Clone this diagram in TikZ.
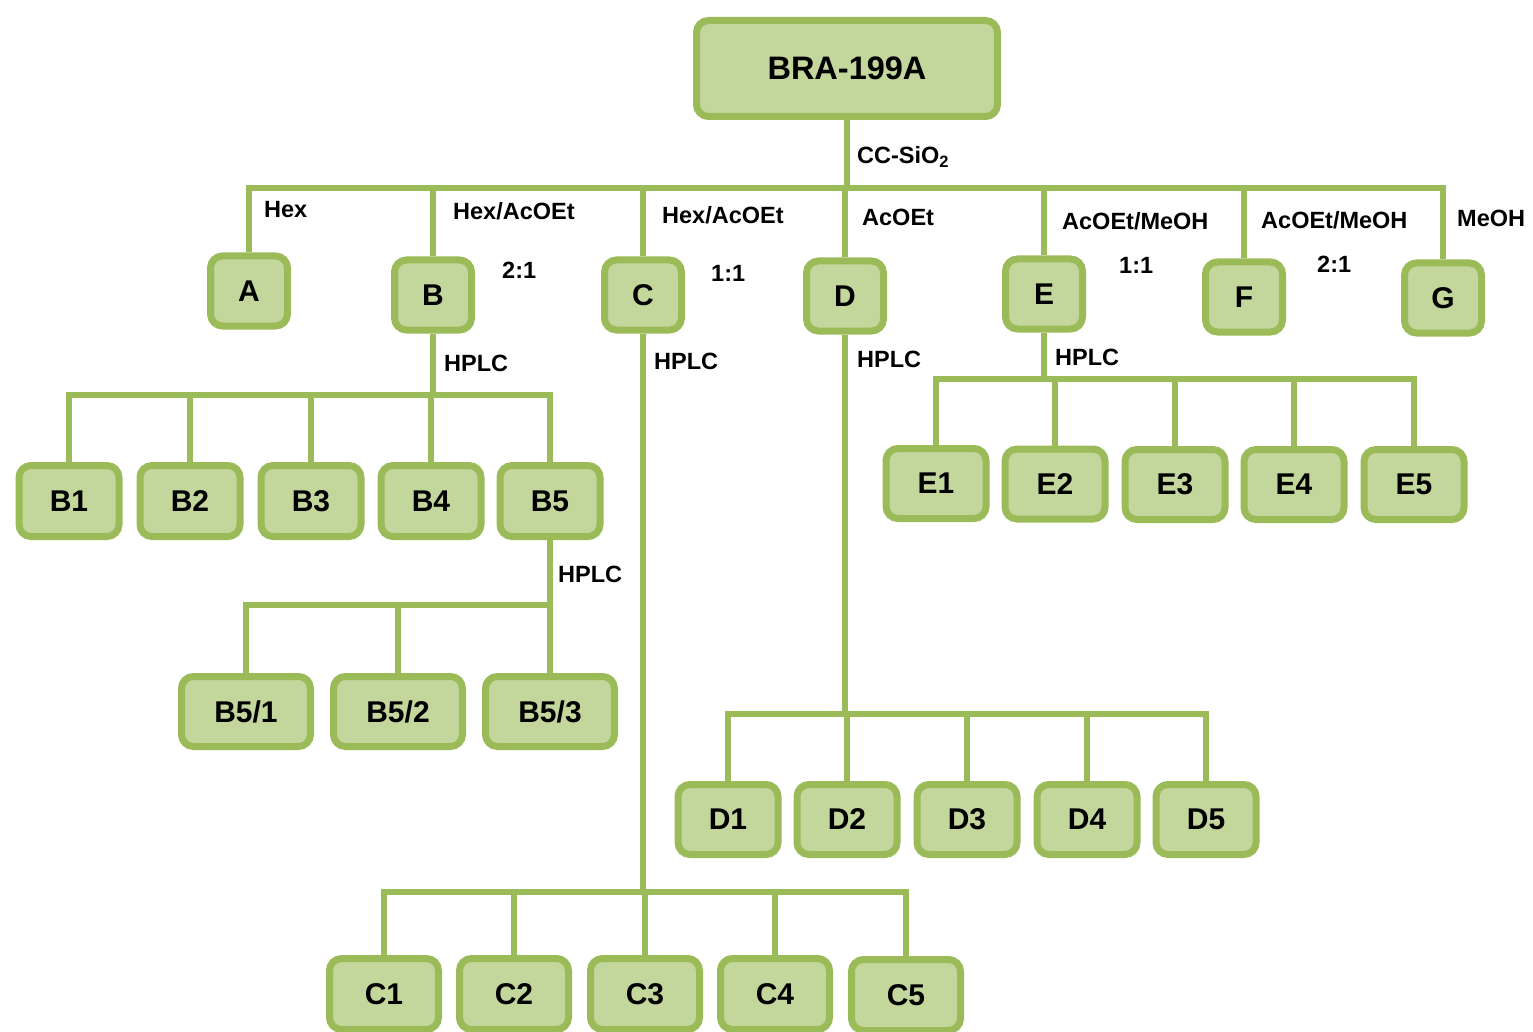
\documentclass[tikz,border=0pt]{standalone}
\usepackage{fontspec}
\setmainfont{Liberation Sans}
\definecolor{bordergreen}{HTML}{9BBB59}
\definecolor{fillgreen}{HTML}{C3D69B}
\newcommand{\boxfont}{\fontsize{30}{30}\selectfont\bfseries}
\newcommand{\rootfont}{\fontsize{32.5}{32.5}\selectfont\bfseries}
\newcommand{\lblfont}{\fontsize{23.5}{23.5}\selectfont\bfseries}
\pgfdeclarelayer{background}
\pgfsetlayers{background,main}
\tikzset{
  box/.style={draw=bordergreen, fill=fillgreen, line width=7pt, rounded corners=12pt,
    inner sep=0pt, font=\boxfont},
  sbox/.style={box, minimum width=77pt, minimum height=70pt},
  bbox/.style={box, minimum width=100pt, minimum height=71pt},
  wbox/.style={box, minimum width=129pt, minimum height=70pt},
  cbox/.style={box, minimum width=109pt, minimum height=71pt},
  conn/.style={draw=bordergreen, line width=6pt},
  lbl/.style={anchor=west, inner sep=0pt, font=\lblfont},
}
\begin{document}
\begin{tikzpicture}[x=1pt,y=-1pt]
\useasboundingbox (0,0) rectangle (1533,1032);
% nodes
\node[box, minimum width=301pt, minimum height=96pt, font=\rootfont] (root) at (847,68.5) {BRA-199A};
\node[sbox] (A) at (249,291) {A};
\node[sbox] (B) at (433,295) {B};
\node[sbox] (C) at (643,295) {C};
\node[sbox] (D) at (845,296) {D};
\node[sbox] (E) at (1044,294) {E};
\node[sbox] (F) at (1244,297) {F};
\node[sbox] (G) at (1443,298) {G};
% bus coordinates
\coordinate (bus0) at (847,188);
\coordinate (busB) at (433,395);
\coordinate (busB5) at (550,605);
\coordinate (busC) at (643,892);
\coordinate (busD) at (845,714);
\coordinate (busE) at (1044,379);
% children
\node[bbox] (B1) at (69,501) {B1};
\node[bbox] (B2) at (190,501) {B2};
\node[bbox] (B3) at (311,501) {B3};
\node[bbox] (B4) at (431,501) {B4};
\node[bbox] (B5) at (550,501) {B5};
\node[wbox] (B51) at (246,711.5) {B5/1};
\node[wbox] (B52) at (398,711.5) {B5/2};
\node[wbox] (B53) at (550,711.5) {B5/3};
\node[cbox] (C1) at (384,994) {C1};
\node[cbox] (C2) at (514,994) {C2};
\node[cbox] (C3) at (645,994) {C3};
\node[cbox] (C4) at (775,994) {C4};
\node[cbox] (C5) at (906,995) {C5};
\node[bbox, minimum height=70pt] (D1) at (728,819.5) {D1};
\node[bbox, minimum height=70pt] (D2) at (847,819.5) {D2};
\node[bbox, minimum height=70pt] (D3) at (967,819.5) {D3};
\node[bbox, minimum height=70pt] (D4) at (1087,819.5) {D4};
\node[bbox, minimum height=70pt] (D5) at (1206,819.5) {D5};
\node[bbox, minimum height=70pt] (E1) at (936,483.5) {E1};
\node[bbox, minimum height=70pt] (E2) at (1055,484) {E2};
\node[bbox, minimum height=70pt] (E3) at (1175,484.5) {E3};
\node[bbox, minimum height=70pt] (E4) at (1294,484.5) {E4};
\node[bbox, minimum height=70pt] (E5) at (1414,484.5) {E5};
% connectors (behind boxes)
\begin{pgfonlayer}{background}
\draw[conn] (root.south) -- (bus0);
\foreach \n in {A,B,C,D,E,F,G} \draw[conn] (\n.north) |- (bus0);
\draw[conn] (B.south) -- (busB);
\foreach \n in {B1,B2,B3,B4,B5} \draw[conn] (\n.north) |- (busB);
\draw[conn] (B5.south) -- (busB5);
\foreach \n in {B51,B52,B53} \draw[conn] (\n.north) |- (busB5);
\draw[conn] (C.south) -- (busC);
\foreach \n in {C1,C2,C3,C4,C5} \draw[conn] (\n.north) |- (busC);
\draw[conn] (D.south) -- (busD);
\foreach \n in {D1,D2,D3,D4,D5} \draw[conn] (\n.north) |- (busD);
\draw[conn] (E.south) -- (busE);
\foreach \n in {E1,E2,E3,E4,E5} \draw[conn] (\n.north) |- (busE);
\end{pgfonlayer}
% labels
\node[lbl] (l0) at (857,157) {CC-SiO\textsubscript{2}};
\node[lbl] (lA) at (264,210) {Hex};
\node[lbl] (lB) at (453,211) {Hex/AcOEt};
\node[lbl] (lBr) at (502,270) {2:1};
\node[lbl] (lC) at (662,215) {Hex/AcOEt};
\node[lbl] (lCr) at (711,273) {1:1};
\node[lbl] (lD) at (862,217) {AcOEt};
\node[lbl] (lE) at (1062,221) {AcOEt/MeOH};
\node[lbl] (lEr) at (1119,265) {1:1};
\node[lbl] (lF) at (1261,220) {AcOEt/MeOH};
\node[lbl] (lFr) at (1317,264) {2:1};
\node[lbl] (lG) at (1457,218) {MeOH};
\node[lbl] (hB) at (444,363) {HPLC};
\node[lbl] (hC) at (654,361) {HPLC};
\node[lbl] (hD) at (857,359) {HPLC};
\node[lbl] (hE) at (1055,357) {HPLC};
\node[lbl, fill=white, inner xsep=4pt, inner ysep=9pt] (hB5) at (554,574) {HPLC\hspace{18pt}};
\end{tikzpicture}
\end{document}
